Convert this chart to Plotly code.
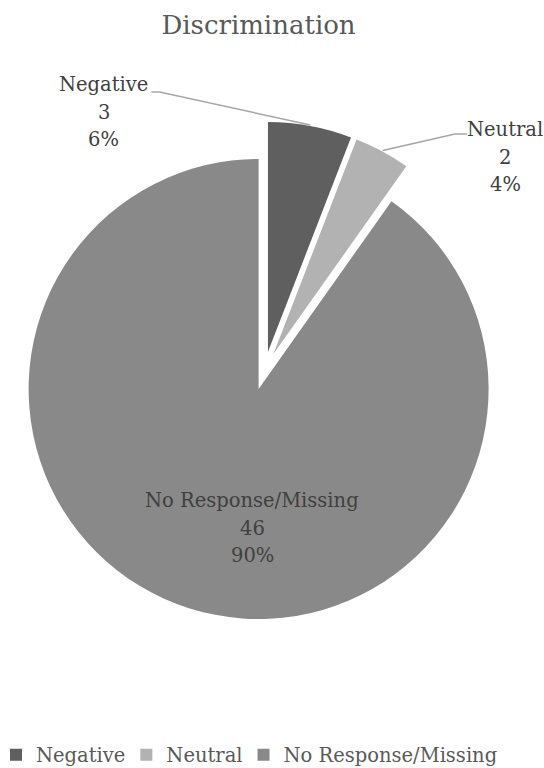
import math
import plotly.graph_objects as go

# ---------------- data ----------------
categories = ["Negative", "Neutral", "No Response/Missing"]
counts = [3, 2, 46]
colors = ["#5f5f5f", "#b2b2b2", "#898989"]
title_text = "Discrimination"

# ---------------- layout constants (pixels) ----------------
W, H = 544, 768
CX, CY = 264.4, 370.8      # pie centre
R = 230.0                  # pie radius
PULL = 0.083               # explosion (fraction of radius)
HALF = R * (1 + PULL)

dom_x = [(CX - HALF) / W, (CX + HALF) / W]
dom_y = [1 - (CY + HALF) / H, 1 - (CY - HALF) / H]

SERIF = "DejaVu Serif"
LABEL_FONT = dict(family=SERIF, size=19.5, color="#404040")
LINE_STEP = 27.5

def px(x):
    return x / W

def py(y):
    return 1 - y / H

total = sum(counts)
pcts = [round(100 * c / total) for c in counts]

mids = []
acc = 0.0
for c in counts:
    frac = c / total
    mids.append((acc + frac / 2) * 360)
    acc += frac

fig = go.Figure(go.Pie(
    labels=categories,
    values=counts,
    marker=dict(colors=colors, line=dict(width=0)),
    sort=False,
    direction="clockwise",
    rotation=0,
    pull=[PULL] * len(counts),
    textinfo="none",
    hoverinfo="label+value+percent",
    domain=dict(x=dom_x, y=dom_y),
))

annotations = []
shapes = []

label_pos = {
    "Negative": dict(x=103.5, y=112, side="right", lead_y=92),
    "Neutral": dict(x=505, y=157, side="left", lead_y=134),
    "No Response/Missing": dict(x=252, y=528, side=None, lead_y=None),
}
half_widths = {"Negative": 43, "Neutral": 36}

for cat, cnt, pct, mid in zip(categories, counts, pcts, mids):
    lp = label_pos[cat]
    lines = [cat, str(cnt), f"{pct}%"]
    for i, t in enumerate(lines):
        annotations.append(dict(
            x=px(lp["x"]), y=py(lp["y"] + (i - 1) * LINE_STEP),
            xref="paper", yref="paper", text=t, showarrow=False,
            xanchor="center", yanchor="middle", font=LABEL_FONT,
        ))
    if lp["side"] is not None:
        a = math.radians(mid)
        dist = HALF + 1
        tx = CX + dist * math.sin(a)
        ty = CY - dist * math.cos(a)
        if lp["side"] == "right":
            sx = lp["x"] + half_widths[cat] + 5
            ex = sx + 8
        else:
            sx = lp["x"] - half_widths[cat] - 2
            ex = sx - 12
        sy = lp["lead_y"]
        path = f"M {px(sx)},{py(sy)} L {px(ex)},{py(sy)} L {px(tx)},{py(ty)}"
        shapes.append(dict(type="path", xref="paper", yref="paper", path=path,
                           line=dict(color="#a6a6a6", width=1.5)))

fig.update_layout(
    width=W, height=H,
    margin=dict(l=0, r=0, t=0, b=0, autoexpand=False),
    paper_bgcolor="white",
    plot_bgcolor="white",
    title=dict(text=title_text, x=258.5 / W, xanchor="center",
               y=1 - 25 / H, yanchor="middle", yref="container",
               font=dict(family=SERIF, size=26, color="#595959")),
    showlegend=True,
    legend=dict(orientation="h", x=0, xanchor="left", y=py(755), yanchor="middle",
                indentation=-4,
                font=dict(family=SERIF, size=19.5, color="#595959"),
                traceorder="normal", itemclick=False),
    annotations=annotations,
    shapes=shapes,
)

fig.write_html("out.html")
